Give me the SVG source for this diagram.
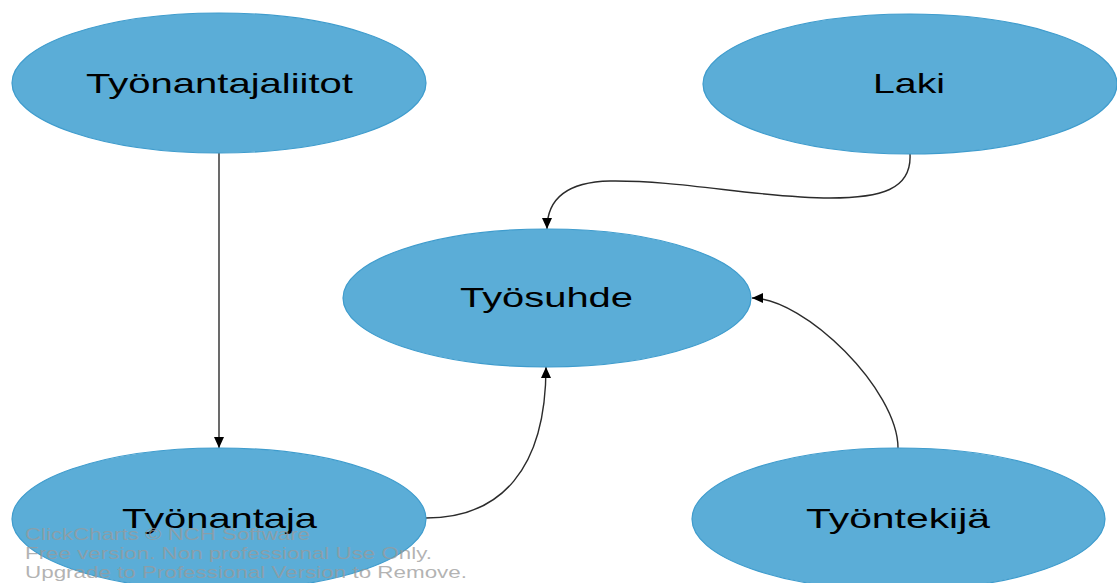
<svg xmlns="http://www.w3.org/2000/svg" width="1117" height="583" viewBox="0 0 1117 583">
  <style>
    .node ellipse { fill: #5badd7; stroke: #3f9ccd; stroke-width: 1.2; }
    .node text { font-family: "Liberation Sans", Arial, sans-serif; font-size: 28px; fill: #000; text-anchor: middle; }
    .edge { fill: none; stroke: #2b2b2b; stroke-width: 1.4; marker-end: url(#arrow); }
    .mark { font-family: "Liberation Sans", Arial, sans-serif; font-size: 17px; fill: #9a9a9a; fill-opacity: 0.75; }
  </style>
  <defs>
    <marker id="arrow" markerWidth="12" markerHeight="10" refX="11" refY="5" orient="auto" markerUnits="userSpaceOnUse">
      <path d="M0,0 L11,5 L0,10 Z" fill="#000"/>
    </marker>
  </defs>
  <rect width="1117" height="583" fill="#fff"/>

  <g id="edges">
    <path class="edge" d="M219,153 L219,448"/>
    <path class="edge" d="M910,154 C912,190 880,198 830,198 C760,198 680,180 610,181 C565,182 547,200 547,229"/>
    <path class="edge" d="M426,518 C500,518 546,470 546,367"/>
    <path class="edge" d="M898,448 C898,390 805,298 752,298"/>
  </g>

  <g id="tyonantajaliitot" class="node">
    <ellipse cx="219" cy="83" rx="207" ry="70"/>
    <text x="219.5" y="93" textLength="267" lengthAdjust="spacingAndGlyphs">Työnantajaliitot</text>
  </g>
  <g id="laki" class="node">
    <ellipse cx="910" cy="84" rx="207" ry="70"/>
    <text x="909" y="93" textLength="72" lengthAdjust="spacingAndGlyphs">Laki</text>
  </g>
  <g id="tyosuhde" class="node">
    <ellipse cx="547" cy="298" rx="204" ry="69"/>
    <text x="546.5" y="307" textLength="173" lengthAdjust="spacingAndGlyphs">Työsuhde</text>
  </g>
  <g id="tyonantaja" class="node">
    <ellipse cx="219" cy="519" rx="207" ry="71"/>
    <text x="219.5" y="528" textLength="195" lengthAdjust="spacingAndGlyphs">Työnantaja</text>
  </g>
  <g id="tyontekija" class="node">
    <ellipse cx="898.5" cy="519" rx="206.5" ry="71"/>
    <text x="898" y="528" textLength="184" lengthAdjust="spacingAndGlyphs">Työntekijä</text>
  </g>

  <g id="watermark">
    <text class="mark" x="25" y="540" textLength="285" lengthAdjust="spacingAndGlyphs">ClickCharts © NCH Software</text>
    <text class="mark" x="25" y="559" textLength="407" lengthAdjust="spacingAndGlyphs">Free version. Non professional Use Only.</text>
    <text class="mark" x="25" y="578" textLength="442" lengthAdjust="spacingAndGlyphs">Upgrade to Professional Version to Remove.</text>
  </g>
</svg>
